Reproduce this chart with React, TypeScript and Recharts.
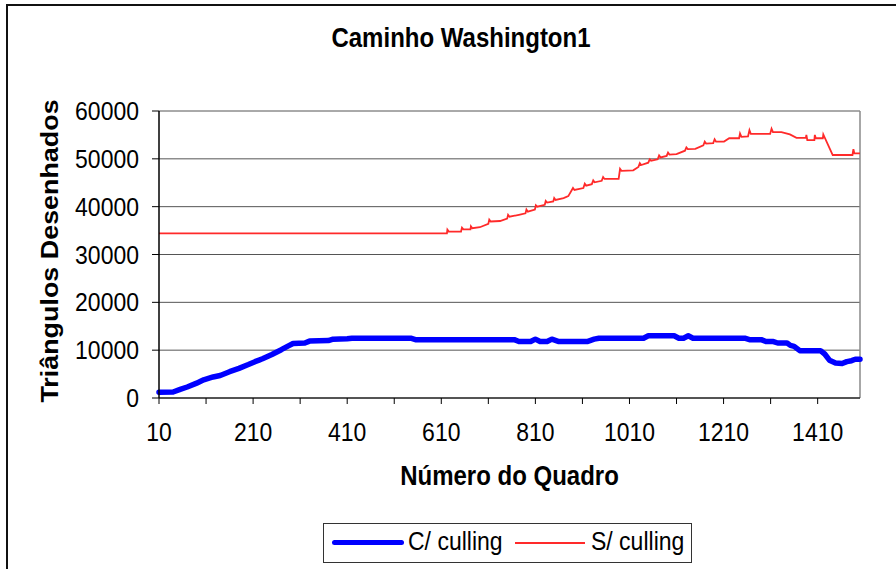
import { LineChart, Line, XAxis, YAxis, CartesianGrid, ReferenceLine } from 'recharts'

// C/ culling (com culling)
const framesC = [
  10, 40, 55, 70, 90, 105, 125, 140, 160, 180, 200, 214, 230, 250, 270, 285, 295, 320, 330, 370, 380,
  410, 420, 545, 555, 765, 775, 800, 810, 820, 835, 845, 860, 920, 935, 945, 1040, 1050, 1105, 1115,
  1125, 1135, 1145, 1255, 1265, 1290, 1300, 1316, 1325, 1345, 1352, 1360, 1372, 1416, 1425, 1435,
  1448, 1462, 1472, 1482, 1490, 1500,
]
const valuesC = [
  1200, 1250, 1800, 2300, 3100, 3800, 4400, 4700, 5500, 6200, 7000, 7600, 8200, 9100, 10100, 10900,
  11400, 11500, 11900, 12000, 12300, 12400, 12500, 12500, 12200, 12200, 11800, 11800, 12300, 11800,
  11800, 12300, 11800, 11800, 12300, 12500, 12500, 13000, 13000, 12500, 12500, 13000, 12500, 12500,
  12200, 12200, 11800, 11800, 11500, 11500, 11000, 10800, 9900, 9900, 9200, 7900, 7300, 7200, 7600,
  7800, 8100, 8100,
]

// S/ culling (sem culling)
const framesS = [
  10, 622, 623, 626, 652, 654, 657, 672, 673, 676, 692, 710, 712, 715, 735, 750, 752, 755, 775, 789,
  791, 794, 809, 811, 814, 830, 832, 835, 848, 850, 853, 870, 880, 890, 893, 912, 915, 918, 930, 933,
  936, 951, 954, 957, 987, 990, 993, 1018, 1029, 1032, 1035, 1050, 1053, 1056, 1070, 1073, 1076,
  1089, 1092, 1095, 1110, 1128, 1131, 1134, 1150, 1167, 1170, 1173, 1188, 1191, 1194, 1211, 1222,
  1243, 1245, 1248, 1262, 1265, 1268, 1309, 1312, 1315, 1333, 1351, 1365, 1385, 1386, 1388, 1403,
  1404, 1406, 1421, 1422, 1442, 1484, 1486, 1488, 1500,
]
const valuesS = [
  34400, 34400, 35200, 34800, 34800, 35600, 35250, 35250, 35900, 35500, 35700, 36400, 37300, 36900,
  37000, 37500, 38300, 37900, 38300, 38600, 39400, 38950, 39400, 40300, 40000, 40400, 41200, 40850,
  41100, 41800, 41400, 41800, 42200, 43900, 43500, 43900, 44800, 44400, 44700, 45500, 45100, 45400,
  46200, 45800, 45800, 47900, 47500, 47600, 48300, 49100, 48700, 49200, 49900, 49600, 49900, 50700,
  50300, 50600, 51300, 50900, 51000, 51700, 52400, 52050, 52100, 52800, 53600, 53200, 53300, 54100,
  53600, 53600, 54300, 54300, 55300, 54600, 54700, 56000, 55200, 55200, 56300, 55600, 55600, 55100,
  54400, 54400, 55000, 53900, 53900, 55000, 54300, 54300, 55100, 50800, 50800, 52000, 51150, 51150,
]

const xTicks = [10, 110, 210, 310, 410, 510, 610, 710, 810, 910, 1010, 1110, 1210, 1310, 1410]
const yTicks = [0, 10000, 20000, 30000, 40000, 50000, 60000]

const title = 'Caminho Washington1'
const xTitle = 'Número do Quadro'
const yTitle = 'Triângulos Desenhados'
const seriesC = 'C/ culling'
const seriesS = 'S/ culling'

const rowsC = framesC.map((frame, i) => ({ frame, value: valuesC[i] }))
const rowsS = framesS.map((frame, i) => ({ frame, value: valuesS[i] }))

const font = '"Liberation Sans", Arial, sans-serif'
// text in this chart is a bit taller than wide
const stretch = 1.12

// only every other tick (10, 210, 410...) carries a label
const xLabel = (v: number) => (((v - 10) / 100) % 2 === 0 ? String(v) : '')

function XTick({ x, y, payload }: any) {
  return (
    <g transform={`translate(${x},${y}) scale(1,${stretch})`}>
      <text x={0} y={0} dy="0.71em" textAnchor="middle" fontSize={23} fill="#000" fontFamily={font}>
        {xLabel(payload.value)}
      </text>
    </g>
  )
}

function YTick({ x, y, payload }: any) {
  return (
    <g transform={`translate(${x},${y}) scale(1,${stretch})`}>
      <text x={0} y={0} dy="0.355em" textAnchor="end" fontSize={23} fill="#000" fontFamily={font}>
        {payload.value}
      </text>
    </g>
  )
}

export default function App() {
  return (
    <div
      style={{
        position: 'fixed',
        left: 0,
        top: 0,
        width: 896,
        height: 569,
        overflow: 'hidden',
        background: '#fff',
        fontFamily: font,
        borderLeft: '2px solid #111',
        borderTop: '2px solid #111',
        boxSizing: 'border-box',
        transform: 'translate(6px, 4px)',
      }}
    >
      <div style={{ position: 'absolute', left: -8, top: -6, width: 896, height: 569 }}>
        <div
          style={{
            position: 'absolute',
            left: 0,
            width: 922,
            top: 24,
            textAlign: 'center',
            fontSize: 24,
            fontWeight: 'bold',
            transform: `scaleY(${stretch})`,
          }}
        >
          {title}
        </div>
        <div style={{ position: 'absolute', left: 0, top: 0 }}>
          <LineChart width={896} height={569} margin={{ top: 111, right: 36, bottom: 0, left: 0 }}>
            <CartesianGrid horizontal vertical={false} stroke="#555" strokeWidth={1} />
            <XAxis
              type="number"
              dataKey="frame"
              domain={[10, 1500]}
              ticks={xTicks}
              interval={0}
              height={171}
              tickSize={6}
              tickMargin={19}
              tick={<XTick />}
              axisLine={{ stroke: '#000' }}
              tickLine={{ stroke: '#000' }}
            />
            <YAxis
              domain={[0, 60000]}
              ticks={yTicks}
              interval={0}
              width={159}
              tickSize={7}
              tickMargin={13}
              tick={<YTick />}
              axisLine={{ stroke: '#000', strokeWidth: 1.5 }}
              tickLine={{ stroke: '#000' }}
            />
            <ReferenceLine x={1500} stroke="#8a8a8a" strokeWidth={1.5} />
            <Line
              data={rowsS}
              dataKey="value"
              type="linear"
              stroke="#ff2a2a"
              strokeWidth={1.8}
              dot={false}
              isAnimationActive={false}
            />
            <Line
              data={rowsC}
              dataKey="value"
              type="linear"
              stroke="#0000ff"
              strokeWidth={5.5}
              strokeLinejoin="round"
              strokeLinecap="round"
              dot={false}
              isAnimationActive={false}
            />
          </LineChart>
        </div>
        <div
          style={{
            position: 'absolute',
            left: 50,
            top: 251,
            transform: `translate(-50%, -50%) rotate(-90deg) scaleX(${stretch})`,
            whiteSpace: 'nowrap',
            fontSize: 24,
            fontWeight: 'bold',
          }}
        >
          {yTitle}
        </div>
        <div
          style={{
            position: 'absolute',
            left: 159,
            width: 701,
            top: 462,
            textAlign: 'center',
            fontSize: 24,
            fontWeight: 'bold',
            transform: `scaleY(${stretch})`,
          }}
        >
          {xTitle}
        </div>
        <div
          style={{
            position: 'absolute',
            left: 323,
            top: 523,
            width: 369,
            height: 40,
            border: '1px solid #333',
            boxSizing: 'border-box',
            fontSize: 23,
          }}
        >
          <div style={{ position: 'absolute', left: 8, top: 16, width: 72, height: 5, borderRadius: 3, background: '#0000ff' }} />
          <div style={{ position: 'absolute', left: 84, top: 4, whiteSpace: 'nowrap', transform: `scaleY(${stretch})` }}>
            {seriesC}
          </div>
          <div style={{ position: 'absolute', left: 191, top: 18, width: 70, height: 2, background: '#ff2a2a' }} />
          <div style={{ position: 'absolute', left: 267, top: 4, whiteSpace: 'nowrap', transform: `scaleY(${stretch})` }}>
            {seriesS}
          </div>
        </div>
      </div>
    </div>
  )
}
